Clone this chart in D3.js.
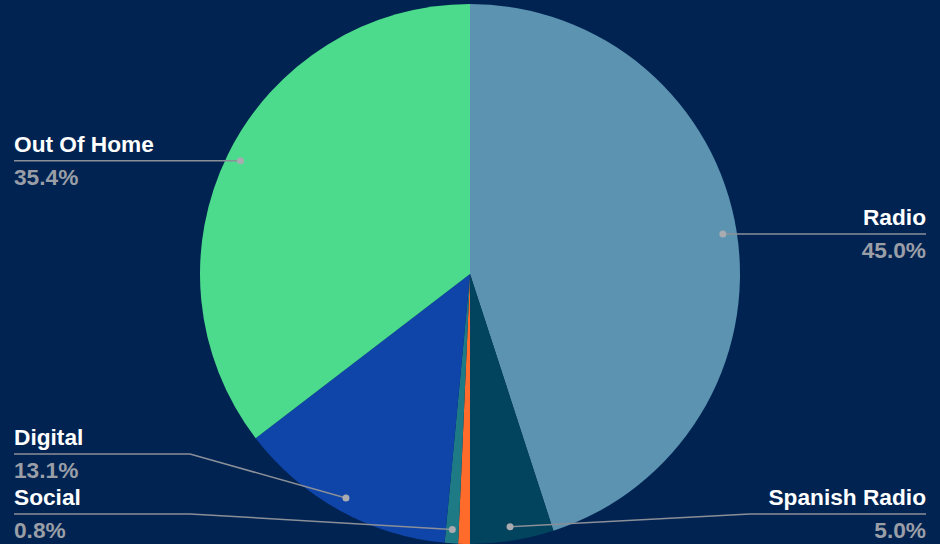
<!DOCTYPE html>
<html><head><meta charset="utf-8">
<script src="https://cdn.jsdelivr.net/npm/d3@7"></script>
<style>html,body{margin:0;padding:0;background:#002352;}svg{display:block;}</style>
</head><body>
<svg id="c" width="940" height="544"></svg>
<script>
const categories = ["Radio", "Spanish Radio", "Other", "Social", "Digital", "Out Of Home"];
const values = [45.0, 5.0, 0.7, 0.8, 13.1, 35.4];
const showLabel = [true, true, false, true, true, true];
const colors = ["#5b93b0", "#02435e", "#ff6b2b", "#1e7b85", "#0f44a8", "#4cdb8c"];

const W = 940, H = 544, cx = 470, cy = 274, R = 270, dotR = 256;
const svg = d3.select("#c");
svg.append("rect").attr("width", W).attr("height", H).attr("fill", "#002352");

const data = categories.map((c, i) => ({name: c, value: values[i], color: colors[i], show: showLabel[i]}));
const pie = d3.pie().sort(null).value(d => d.value);
const arcs = pie(data);
const arc = d3.arc().innerRadius(0).outerRadius(R);
const g = svg.append("g").attr("transform", `translate(${cx},${cy})`);
g.selectAll("path").data(arcs).join("path").attr("d", arc).attr("fill", d => d.data.color);

// labels
const labels = arcs.filter(a => a.data.show).map(a => {
  const m = (a.startAngle + a.endAngle) / 2;
  const x = cx + dotR * Math.sin(m), y = cy - dotR * Math.cos(m);
  return {a, m, x, y, side: Math.sin(m) >= 0 ? "right" : "left", ly: y};
});
const maxY = H - 30, gap = 60;
["left", "right"].forEach(s => {
  const L = labels.filter(l => l.side === s).sort((p, q) => q.y - p.y);
  let limit = maxY;
  L.forEach(l => { l.ly = Math.min(l.y, limit); limit = l.ly - gap; });
});
const fmt = d3.format(".1f");
const lg = svg.append("g");
labels.forEach(l => {
  const edge = l.side === "right" ? 926 : 14;
  const elbow = l.side === "right" ? 750 : 190;
  let pts;
  if (Math.abs(l.ly - l.y) < 1) pts = [[l.x, l.y], [edge, l.ly]];
  else pts = [[l.x, l.y], [elbow, l.ly], [edge, l.ly]];
  lg.append("path").attr("d", d3.line()(pts)).attr("fill", "none").attr("stroke", "#8a8f98").attr("stroke-width", 1.5);
  lg.append("circle").attr("cx", l.x).attr("cy", l.y).attr("r", 3.5).attr("fill", "#a9abb0");
  const anchor = l.side === "right" ? "end" : "start";
  lg.append("text").attr("x", edge).attr("y", l.ly - 9).attr("text-anchor", anchor)
    .attr("font-family", "Liberation Sans, Arial, sans-serif").attr("font-weight", "bold").attr("font-size", 22.7)
    .attr("fill", "#ffffff").text(l.a.data.name);
  lg.append("text").attr("x", edge).attr("y", l.ly + 24).attr("text-anchor", anchor)
    .attr("font-family", "Liberation Sans, Arial, sans-serif").attr("font-weight", "bold").attr("font-size", 22.7)
    .attr("fill", "#9a9ea6").text(fmt(l.a.data.value) + "%");
});
</script>
</body></html>
